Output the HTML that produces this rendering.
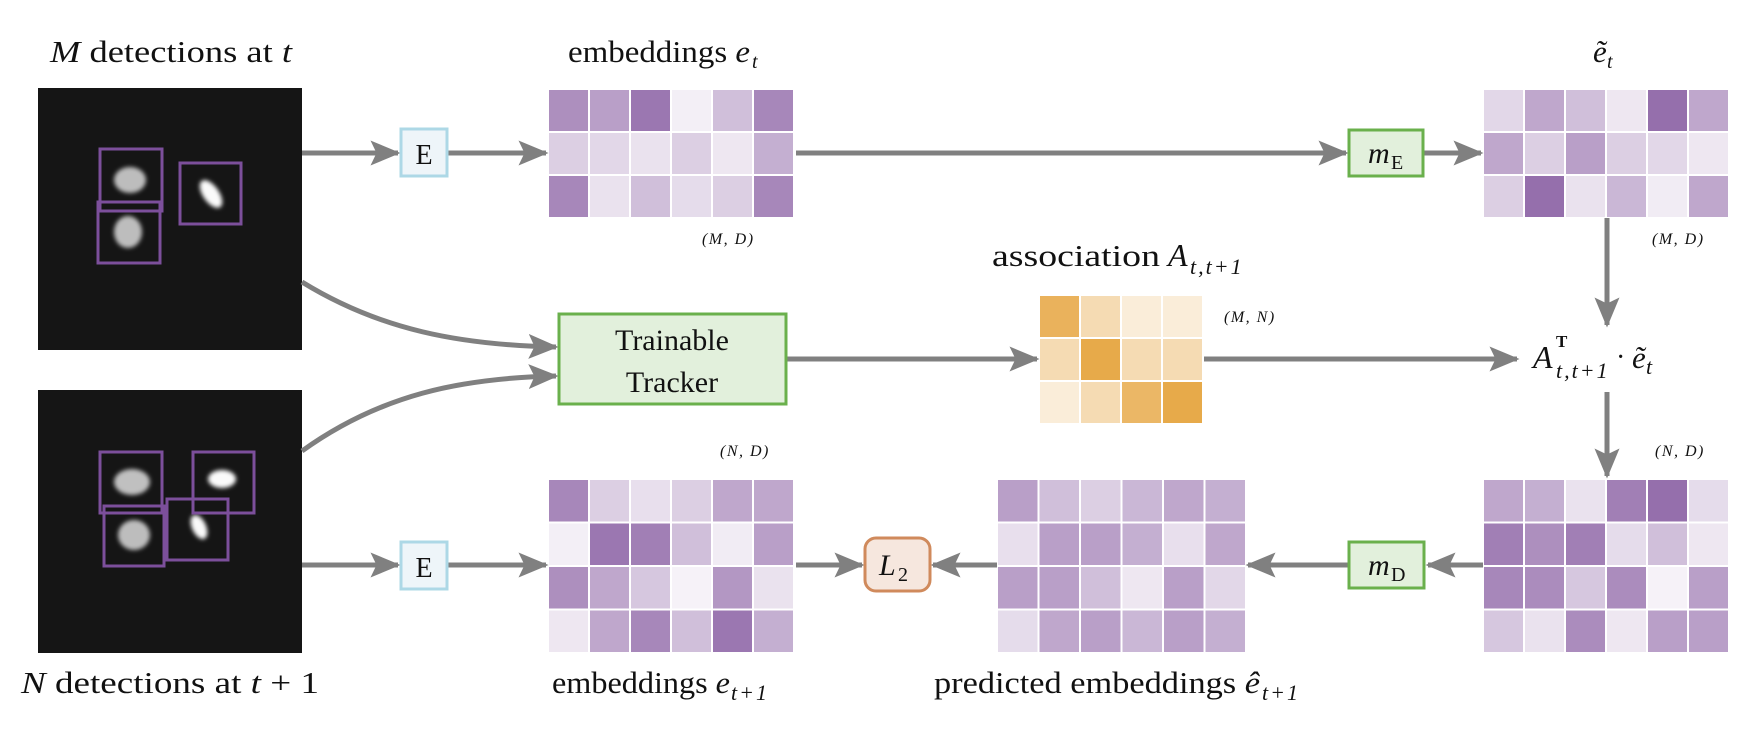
<!DOCTYPE html>
<html><head><meta charset="utf-8"><style>
html,body{margin:0;padding:0;background:#fff;}
svg{display:block}
text{font-family:"Liberation Serif",serif;fill:#111}
.it{font-style:italic}
.dim{font-size:16px;letter-spacing:1.5px;font-style:italic}
.sub{font-size:22px;letter-spacing:2px;font-style:italic}
</style></head><body>
<svg width="1764" height="736" viewBox="0 0 1764 736" xmlns="http://www.w3.org/2000/svg">
<defs>
<marker id="ah" markerWidth="6" markerHeight="5" refX="5.5" refY="2.5" orient="auto" markerUnits="strokeWidth">
<path d="M0,0 L6,2.5 L0,5 L1.2,2.5 Z" fill="#808080"/>
</marker>
<filter id="bl" x="-50%" y="-50%" width="200%" height="200%"><feGaussianBlur stdDeviation="2.2"/></filter>
</defs>

<rect x="38" y="88" width="264" height="262" fill="#151515"/>
<rect x="38" y="390" width="264" height="263" fill="#151515"/>
<g filter="url(#bl)">
<ellipse cx="130" cy="180" rx="16" ry="13" fill="#bdbdbd"/>
<ellipse cx="128" cy="232" rx="14" ry="16" fill="#bdbdbd"/>
<ellipse cx="211" cy="194" rx="8" ry="16" fill="#fafafa" transform="rotate(-35 211 194)"/>
<ellipse cx="132" cy="482" rx="18" ry="13" fill="#c0c0c0"/>
<ellipse cx="134" cy="535" rx="16" ry="15" fill="#bdbdbd"/>
<ellipse cx="222" cy="479" rx="14" ry="9" fill="#fafafa"/>
<ellipse cx="199" cy="527" rx="7" ry="13" fill="#fafafa" transform="rotate(-25 199 527)"/>
</g>
<g fill="none" stroke="#7c4f9b" stroke-width="3">
<rect x="100" y="149" width="62" height="62"/>
<rect x="98" y="202" width="62" height="61"/>
<rect x="180" y="163" width="61" height="61"/>
<rect x="100" y="452" width="62" height="61"/>
<rect x="104" y="506" width="60" height="60"/>
<rect x="193" y="452" width="61" height="61"/>
<rect x="167" y="499" width="61" height="61"/>
</g>

<g id="mats" stroke="#fff" stroke-width="2"></g>

<g stroke="#808080" stroke-width="5" fill="none" marker-end="url(#ah)">
<line x1="302" y1="153" x2="398" y2="153"/>
<line x1="448" y1="153" x2="546" y2="153"/>
<line x1="796" y1="153" x2="1346" y2="153"/>
<line x1="1424" y1="153" x2="1481" y2="153"/>
<line x1="1607" y1="218" x2="1607" y2="325"/>
<path d="M302,282 C380,330 460,345 556,347"/>
<path d="M302,451 C380,395 460,378 556,376"/>
<line x1="787" y1="359" x2="1037" y2="359"/>
<line x1="1204" y1="359" x2="1517" y2="359"/>
<line x1="1607" y1="392" x2="1607" y2="476"/>
<line x1="302" y1="565" x2="398" y2="565"/>
<line x1="448" y1="565" x2="546" y2="565"/>
<line x1="796" y1="565" x2="862" y2="565"/>
<line x1="997" y1="565" x2="933" y2="565"/>
<line x1="1348" y1="565" x2="1248" y2="565"/>
<line x1="1483" y1="565" x2="1428" y2="565"/>
</g>

<rect x="401" y="129" width="46" height="47" fill="#eef5f9" stroke="#add8e6" stroke-width="3"/>
<text x="424" y="164" font-size="28" text-anchor="middle">E</text>
<rect x="401" y="542" width="46" height="47" fill="#eef5f9" stroke="#add8e6" stroke-width="3"/>
<text x="424" y="577" font-size="28" text-anchor="middle">E</text>
<rect x="1349" y="130" width="74" height="46" fill="#e2f0dc" stroke="#6ab04c" stroke-width="3"/>
<text x="1368" y="163" font-size="30" class="it">m</text><text x="1391" y="169" font-size="20">E</text>
<rect x="1349" y="542" width="75" height="46" fill="#e2f0dc" stroke="#6ab04c" stroke-width="3"/>
<text x="1368" y="575" font-size="30" class="it">m</text><text x="1391" y="581" font-size="20">D</text>
<rect x="559" y="314" width="227" height="90" fill="#e2f0dc" stroke="#6ab04c" stroke-width="3"/>
<text x="672" y="350" font-size="30" text-anchor="middle">Trainable</text>
<text x="672" y="392" font-size="30" text-anchor="middle">Tracker</text>
<rect x="865" y="538" width="65" height="53" rx="11" fill="#f6e7de" stroke="#d08a5c" stroke-width="3"/>
<text x="879" y="575" font-size="30" class="it">L</text><text x="898" y="581" font-size="20">2</text>

<text x="50" y="62" font-size="31" textLength="242" lengthAdjust="spacingAndGlyphs"><tspan class="it">M</tspan> detections at <tspan class="it">t</tspan></text>
<text x="568" y="62" font-size="31" textLength="182" lengthAdjust="spacingAndGlyphs">embeddings <tspan class="it">e</tspan></text><text x="752" y="68" font-size="20" class="it">t</text>
<text x="1593" y="62" font-size="31" class="it">ẽ</text><text x="1607" y="68" font-size="20" class="it">t</text>
<text x="702" y="244" class="dim">(M, D)</text>
<text x="1652" y="244" class="dim">(M, D)</text>
<text x="1224" y="322" class="dim">(M, N)</text>
<text x="720" y="456" class="dim">(N, D)</text>
<text x="1655" y="456" class="dim">(N, D)</text>
<text x="992" y="266" font-size="31" textLength="168" lengthAdjust="spacingAndGlyphs">association</text>
<text x="1168" y="266" font-size="32" class="it">A</text><text x="1190" y="274" class="sub">t,t+1</text>
<text x="1533" y="368" font-size="32" class="it">A</text><text x="1556" y="347" font-size="17" font-family="Liberation Sans" font-weight="bold">T</text>
<text x="1556" y="378" class="sub">t,t+1</text><text x="1616" y="366" font-size="28">·</text>
<text x="1632" y="368" font-size="31" class="it">ẽ</text><text x="1646" y="374" font-size="22" class="it">t</text>
<text x="21" y="693" font-size="31" textLength="298" lengthAdjust="spacingAndGlyphs"><tspan class="it">N</tspan> detections at <tspan class="it">t</tspan> + 1</text>
<text x="552" y="693" font-size="31" textLength="178" lengthAdjust="spacingAndGlyphs">embeddings <tspan class="it">e</tspan></text><text x="731" y="700" class="sub">t+1</text>
<text x="934" y="693" font-size="31" textLength="326" lengthAdjust="spacingAndGlyphs">predicted embeddings <tspan class="it">ê</tspan></text><text x="1262" y="700" class="sub">t+1</text>
</svg>
<script>
const g=document.getElementById('mats');
function mat(x,y,cw,rh,data,col){
 data.forEach((r,i)=>r.forEach((v,j)=>{
  const e=document.createElementNS('http://www.w3.org/2000/svg','rect');
  e.setAttribute('x',x+j*cw);e.setAttribute('y',y+i*rh);
  e.setAttribute('width',cw);e.setAttribute('height',rh);
  e.setAttribute('fill',col);e.setAttribute('fill-opacity',v);
  g.appendChild(e);
 }));
}
const P='#8a5fa3',O='#e6a540';
mat(548,89,41,43,[[.7,.6,.85,.1,.4,.75],[.3,.25,.18,.3,.15,.5],[.75,.18,.4,.22,.3,.75]],P);
mat(1483,89,41,43,[[.25,.55,.4,.15,.9,.55],[.55,.3,.6,.3,.25,.15],[.3,.9,.18,.45,.12,.55]],P);
mat(1039,295,41,43,[[.85,.4,.2,.2],[.4,.95,.4,.4],[.2,.4,.8,.95]],O);
mat(548,479,41,43.5,[[.75,.3,.2,.3,.55,.55],[.1,.85,.8,.4,.12,.6],[.7,.55,.35,.08,.65,.18],[.15,.55,.75,.4,.85,.5]],P);
mat(997,479,41.5,43.5,[[.6,.4,.3,.45,.55,.5],[.2,.6,.6,.5,.2,.55],[.6,.6,.4,.15,.6,.25],[.22,.55,.6,.45,.6,.5]],P);
mat(1483,479,41,43.5,[[.55,.5,.18,.8,.9,.22],[.8,.7,.8,.22,.4,.15],[.75,.72,.35,.72,.08,.6],[.35,.18,.72,.15,.6,.6]],P);
</script>
</body></html>
